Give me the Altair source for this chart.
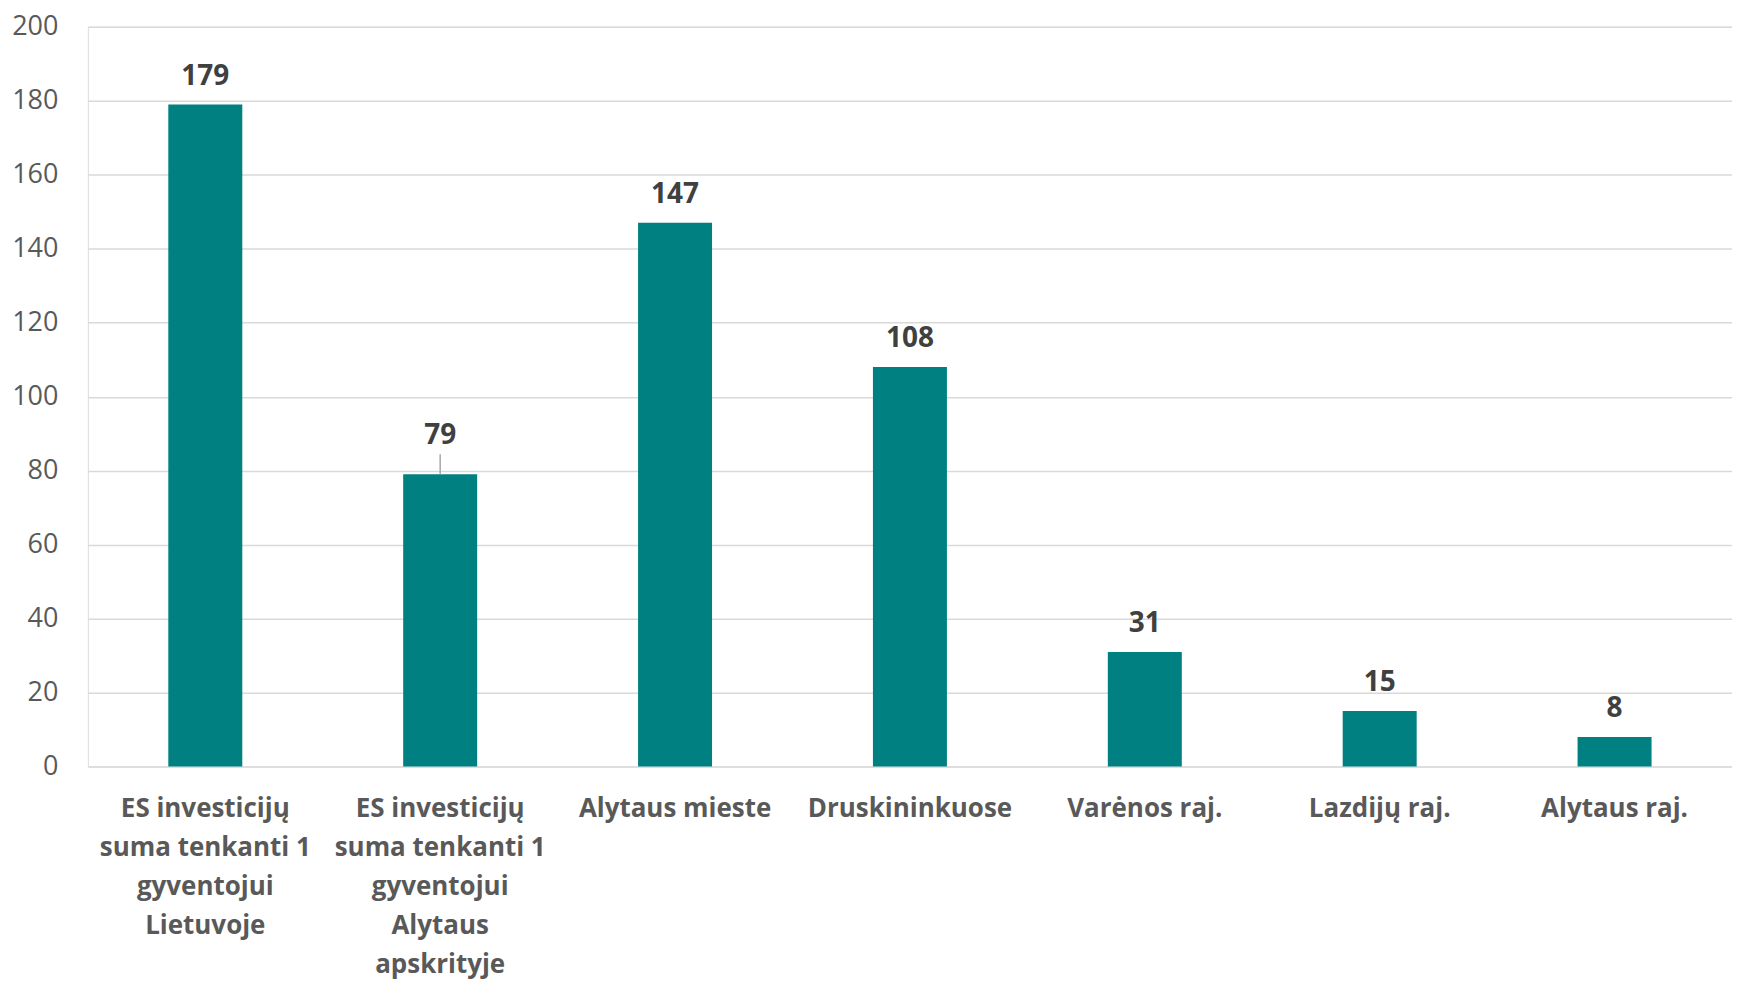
import altair as alt
import pandas as pd

categories = [
    "ES investicijų suma tenkanti 1 gyventojui Lietuvoje",
    "ES investicijų suma tenkanti 1 gyventojui Alytaus apskrityje",
    "Alytaus mieste",
    "Druskininkuose",
    "Varėnos raj.",
    "Lazdijų raj.",
    "Alytaus raj.",
]
label_lines = [
    "ES investicijų|suma tenkanti 1|gyventojui|Lietuvoje",
    "ES investicijų|suma tenkanti 1|gyventojui|Alytaus|apskrityje",
    "Alytaus mieste",
    "Druskininkuose",
    "Varėnos raj.",
    "Lazdijų raj.",
    "Alytaus raj.",
]
values = [179, 79, 147, 108, 31, 15, 8]
# label moved up (with leader line) for the second bar, in data units
label_lift = [0, 2.9, 0, 0, 0, 0, 0]
leader_top = [None, 84.4, None, None, None, None, None]

df = pd.DataFrame({
    "cat": label_lines,
    "value": values,
    "label_y": [v + l for v, l in zip(values, label_lift)],
    "leader": leader_top,
})

FONT = "Open Sans"
GRAY = "#595959"

x = alt.X("cat:N", sort=label_lines,
          scale=alt.Scale(paddingInner=0.685, paddingOuter=0.3425),
          axis=alt.Axis(title=None, labelAngle=0, domain=False, ticks=False,
                        labelExpr="split(datum.label, '|')",
                        labelFont=FONT, labelFontSize=26, labelFontWeight="bold",
                        labelColor=GRAY, labelPadding=29, labelLineHeight=39,
                        labelBaseline="top", labelLimit=400))
yscale = alt.Scale(domain=[0, 200], nice=False)

bars = alt.Chart(df).mark_bar(color="#008080").encode(
    x=x,
    y=alt.Y("value:Q", scale=yscale,
            axis=alt.Axis(title=None, values=list(range(0, 201, 20)),
                          domain=False, ticks=False, grid=True,
                          gridColor="#d9d9d9", gridWidth=1.5,
                          labelFont=FONT, labelFontSize=27, labelColor=GRAY,
                          labelPadding=30)),
)

leader = alt.Chart(df).transform_filter("isValid(datum.leader)").mark_rule(
    color="#a6a6a6", strokeWidth=1.5).encode(
    x=alt.X("cat:N", sort=label_lines),
    y=alt.Y("value:Q", scale=yscale),
    y2="leader:Q",
)

text = alt.Chart(df).mark_text(font=FONT, fontSize=28, fontWeight="bold",
                               color="#404040", dy=-20, baseline="alphabetic").encode(
    x=alt.X("cat:N", sort=label_lines),
    y=alt.Y("label_y:Q", scale=yscale),
    text="value:Q",
)

chart = alt.layer(bars, leader, text).properties(
    width=1647, height=741,
    padding={"left": 80, "top": 18, "right": 0, "bottom": 220},
    autosize=alt.AutoSizeParams(type="none"),
).configure_view(stroke=None).configure(background="white")

chart.save("out.html", embed_options={"renderer": "svg", "actions": False})
